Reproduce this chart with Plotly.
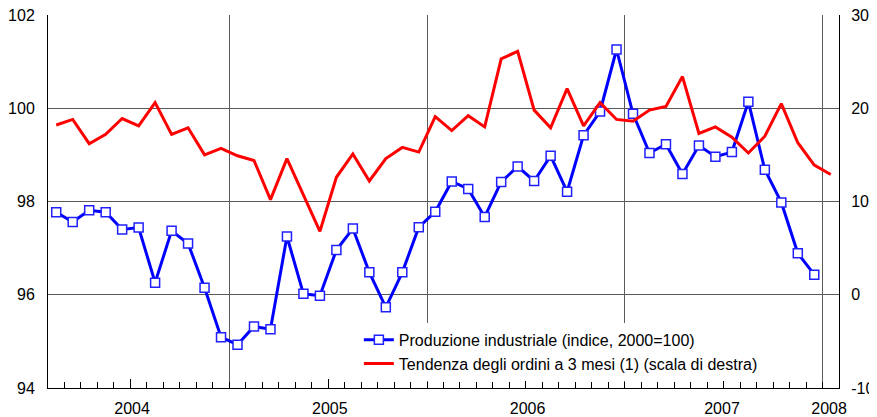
import plotly.graph_objects as go

# Months from Feb 2004 to Jan 2008
months = [f"{2004 + (1 + i) // 12}-{(1 + i) % 12 + 1:02d}" for i in range(48)]

produzione = [97.77, 97.56, 97.81, 97.77, 97.40, 97.44, 96.26, 97.37, 97.10, 96.15,
              95.09, 94.93, 95.32, 95.26, 97.25, 96.02, 95.98, 96.96, 97.42, 96.48,
              95.73, 96.48, 97.45, 97.78, 98.43, 98.27, 97.67, 98.42, 98.75, 98.44,
              98.98, 98.21, 99.42, 99.93, 101.26, 99.88, 99.04, 99.23, 98.59, 99.20,
              98.96, 99.06, 100.14, 98.68, 97.98, 96.89, 96.43]

tendenza = [18.2, 18.8, 16.2, 17.2, 18.9, 18.1, 20.6, 17.2, 17.9, 15.0,
            15.7, 14.9, 14.4, 10.2, 14.6, 10.7, 6.8, 12.6, 15.1, 12.2,
            14.6, 15.8, 15.3, 19.1, 17.6, 19.2, 18.0, 25.3, 26.1, 19.8,
            17.9, 22.1, 18.1, 20.6, 18.8, 18.6, 19.8, 20.2, 23.4, 17.3,
            18.0, 16.9, 15.2, 17.0, 20.5, 16.3, 13.9, 12.9]

year_labels = ["2004", "2005", "2006", "2007", "2008"]
year_label_pos = [5.1, 17.1, 29.1, 40.9, 47.4]  # label positions (months from Feb 2004)
year_bounds = [11, 23, 35, 47]                   # January boundaries
mid_year = [5, 17, 29, 41]
month_bounds = list(range(1, 48))

right_ticks = [-10, 0, 10, 20, 30]
right_labels = ["-10", "0", "10", "20", "30"]

x_prod = [i + 0.5 for i in range(len(produzione))]
x_tend = [i + 0.5 for i in range(len(tendenza))]

FONT = "Liberation Sans, Arial, sans-serif"

fig = go.Figure()
fig.add_trace(go.Scatter(
    x=x_prod, y=produzione, mode="lines+markers",
    name="Produzione industriale (indice, 2000=100)",
    line=dict(color="#0000FF", width=3),
    marker=dict(symbol="square", size=9, color="white",
                line=dict(color="#2020FF", width=1.5)),
    xaxis="x", yaxis="y"))
fig.add_trace(go.Scatter(
    x=x_tend, y=tendenza, mode="lines",
    name="Tendenza degli ordini a 3 mesi (1) (scala di destra)",
    line=dict(color="#FF0000", width=3),
    xaxis="x2", yaxis="y2"))

GRID = "#5a5a5a"
# page body has an 8px margin, so the figure is drawn 8px right/down
fig.update_layout(
    width=869, height=409,
    margin=dict(l=40, r=38, t=7, b=29, autoexpand=False),
    paper_bgcolor="white", plot_bgcolor="white",
    font=dict(family=FONT, size=16, color="black"),
    showlegend=True,
    legend=dict(x=0.393, y=0.175, xanchor="left", yanchor="top",
                bgcolor="white", borderwidth=0, font=dict(size=16),
                tracegroupgap=0),
    xaxis=dict(range=[0, 48], tickmode="array", tickvals=year_label_pos,
               ticktext=year_labels, ticks="", showgrid=False, zeroline=False,
               showline=True, linecolor="black", linewidth=1,
               ticklabelstandoff=6, automargin=False, ticklabeloverflow="allow",
               minor=dict(tickmode="array", tickvals=month_bounds, ticks="inside",
                          ticklen=6, tickcolor="black", showgrid=False)),
    xaxis2=dict(range=[0, 48], overlaying="x", anchor="y2", side="bottom",
                tickmode="array", tickvals=year_bounds, showticklabels=False,
                ticks="", showgrid=True, gridcolor=GRID, gridwidth=1,
                zeroline=False, showline=False, automargin=False,
                minor=dict(tickmode="array", tickvals=mid_year, ticks="inside",
                           ticklen=9, tickcolor="black", showgrid=False)),
    yaxis=dict(range=[94, 102], tickmode="linear", tick0=94, dtick=2,
               showgrid=True, gridcolor=GRID, gridwidth=1, zeroline=False,
               showline=True, linecolor="black", linewidth=1, ticks="",
               ticklabelstandoff=9, automargin=False, ticklabeloverflow="allow"),
    yaxis2=dict(range=[-10, 30], tickmode="array", tickvals=right_ticks,
                ticktext=right_labels,
                overlaying="y", side="right", anchor="x",
                showgrid=False, zeroline=False, showline=True,
                linecolor="black", linewidth=1, ticks="",
                ticklabelstandoff=8, automargin=False, ticklabeloverflow="allow"),
)

fig.write_html("out.html")
